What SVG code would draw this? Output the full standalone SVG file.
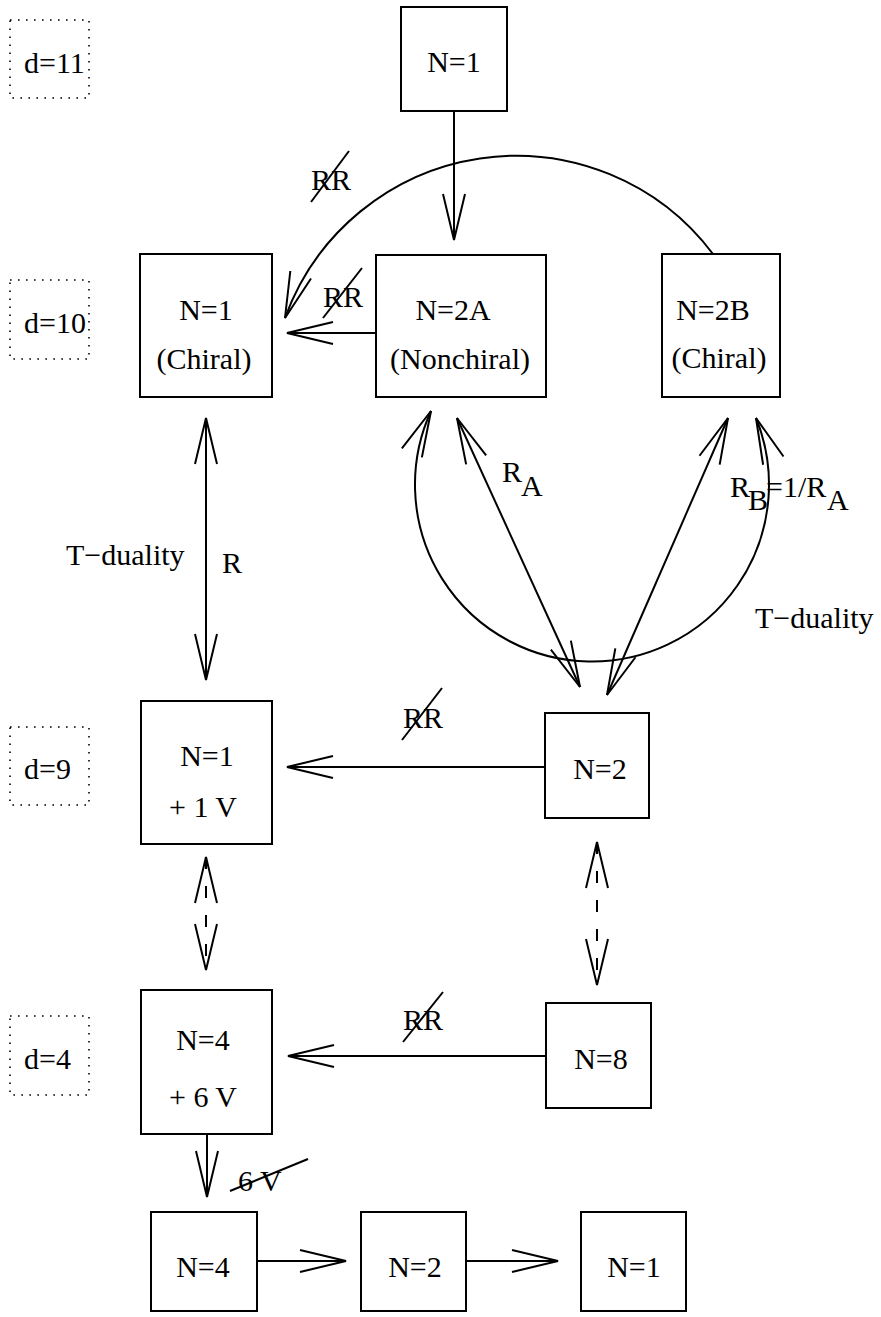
<svg xmlns="http://www.w3.org/2000/svg" width="881" height="1317" viewBox="0 0 881 1317" font-family="'Liberation Serif', 'DejaVu Serif', serif">
<style>
text{font-family:'Liberation Serif','DejaVu Serif',serif;font-size:30px;fill:#000}
.m{text-anchor:middle}
.box{fill:none;stroke:#000;stroke-width:2}
.dot{fill:none;stroke:#000;stroke-width:1.6;stroke-dasharray:1.6 6.4}
.c{fill:none;stroke:#000;stroke-width:2}
.dash{stroke-dasharray:12 17}
.s{stroke:#000;stroke-width:2}
</style>
<defs>
<marker id="ah" markerUnits="userSpaceOnUse" viewBox="-50 -15 60 30" markerWidth="60" markerHeight="30" refX="0" refY="0" orient="auto-start-reverse" overflow="visible">
<path d="M-46,-11 L0,0 L-46,11" fill="none" stroke="#000" stroke-width="2" stroke-dasharray="none"/>
</marker>
</defs>
<rect width="881" height="1317" fill="#fff"/>

<g id="dim11"><rect class="dot" x="10" y="20" width="79" height="78"/><text x="24" y="73">d=11</text></g>
<g id="dim10"><rect class="dot" x="10" y="280" width="79" height="79"/><text x="24" y="333">d=10</text></g>
<g id="dim9"><rect class="dot" x="10" y="727" width="79" height="78"/><text x="24" y="779">d=9</text></g>
<g id="dim4"><rect class="dot" x="10" y="1016" width="79" height="79"/><text x="24" y="1069">d=4</text></g>

<g id="n11"><rect class="box" x="401" y="7" width="106" height="104"/><text class="m" x="454" y="72">N=1</text></g>
<g id="n10chiral"><rect class="box" x="140" y="254" width="132" height="143"/><text class="m" x="206" y="320">N=1</text><text class="m" x="204" y="369">(Chiral)</text></g>
<g id="n10a"><rect class="box" x="376" y="255" width="170" height="142"/><text class="m" x="453" y="320">N=2A</text><text class="m" x="460" y="369">(Nonchiral)</text></g>
<g id="n10b"><rect class="box" x="662" y="254" width="118" height="143"/><text class="m" x="713" y="320">N=2B</text><text class="m" x="719" y="368">(Chiral)</text></g>
<g id="n9a"><rect class="box" x="141" y="701" width="131" height="143"/><text class="m" x="207" y="766">N=1</text><text class="m" x="203" y="817">+ 1 V</text></g>
<g id="n9b"><rect class="box" x="545" y="713" width="104" height="105"/><text class="m" x="600" y="779">N=2</text></g>
<g id="n4a"><rect class="box" x="141" y="990" width="131" height="144"/><text class="m" x="203" y="1050">N=4</text><text class="m" x="203" y="1107">+ 6 V</text></g>
<g id="n4b"><rect class="box" x="546" y="1003" width="105" height="105"/><text class="m" x="601" y="1069">N=8</text></g>
<g id="b1"><rect class="box" x="151" y="1212" width="106" height="99"/><text class="m" x="203" y="1277">N=4</text></g>
<g id="b2"><rect class="box" x="361" y="1212" width="105" height="99"/><text class="m" x="415" y="1277">N=2</text></g>
<g id="b3"><rect class="box" x="581" y="1212" width="105" height="99"/><text class="m" x="634" y="1277">N=1</text></g>

<g id="connectors">
<line class="c" x1="454" y1="111" x2="454" y2="240" marker-end="url(#ah)"/>
<path class="c" d="M713,254 A246,246 0 0 0 285,318" marker-end="url(#ah)"/>
<line class="c" x1="376" y1="333" x2="287" y2="333" marker-end="url(#ah)"/>
<line class="c" x1="206" y1="418" x2="206" y2="680" marker-start="url(#ah)" marker-end="url(#ah)"/>
<line class="c" x1="457" y1="418" x2="580" y2="687" marker-start="url(#ah)" marker-end="url(#ah)"/>
<line class="c" x1="728" y1="418" x2="607" y2="695" marker-start="url(#ah)" marker-end="url(#ah)"/>
<path class="c" d="M431,411 A177,177 0 1 0 756,418" marker-start="url(#ah)" marker-end="url(#ah)"/>
<line class="c" x1="545" y1="767" x2="287" y2="767" marker-end="url(#ah)"/>
<line class="c dash" x1="206" y1="857" x2="206" y2="970" marker-start="url(#ah)" marker-end="url(#ah)"/>
<line class="c dash" x1="597" y1="842" x2="597" y2="985" marker-start="url(#ah)" marker-end="url(#ah)"/>
<line class="c" x1="546" y1="1056" x2="288" y2="1056" marker-end="url(#ah)"/>
<line class="c" x1="207" y1="1134" x2="207" y2="1197" marker-end="url(#ah)"/>
<line class="c" x1="257" y1="1261" x2="346" y2="1261" marker-end="url(#ah)"/>
<line class="c" x1="466" y1="1261" x2="558" y2="1261" marker-end="url(#ah)"/>
</g>

<g id="labels">
<text x="311" y="190">RR</text><line class="s" x1="311" y1="202" x2="349" y2="151"/>
<text x="323" y="307">RR</text><line class="s" x1="323" y1="318" x2="362" y2="268"/>
<text x="403" y="728">RR</text><line class="s" x1="402" y1="740" x2="442" y2="688"/>
<text x="403" y="1030">RR</text><line class="s" x1="403" y1="1042" x2="443" y2="992"/>
<text x="238" y="1191">6 V</text><line class="s" x1="230" y1="1191" x2="308" y2="1159"/>
<text x="66" y="565">T&#8722;duality</text>
<text x="222" y="573">R</text>
<text x="502" y="482">R</text><text x="521" y="496">A</text>
<text x="730" y="497">R</text><text x="748" y="510">B</text><text x="766" y="497">=1/R</text><text x="827" y="510">A</text>
<text x="755" y="628">T&#8722;duality</text>
</g>
</svg>
